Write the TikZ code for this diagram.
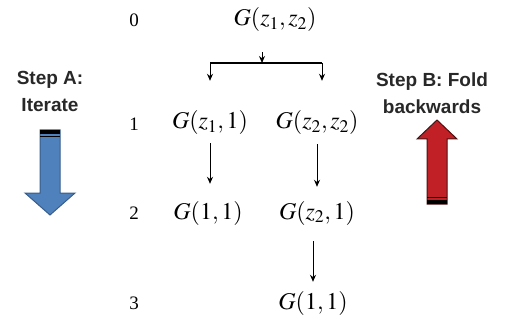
\documentclass[tikz,border=0pt]{standalone}
\usepackage{mathptmx}
\usepackage[no-math]{fontspec}
\setmainfont{Liberation Serif}
\newfontfamily\stepfont{Liberation Sans}
\usetikzlibrary{arrows.meta,positioning}
\definecolor{stepblue}{RGB}{79,129,189}
\definecolor{stepblueline}{RGB}{56,93,138}
\definecolor{stepred}{RGB}{192,32,38}
\definecolor{stepredline}{RGB}{70,20,20}
\definecolor{steptextgray}{RGB}{40,40,40}

\begin{document}
\begin{tikzpicture}[
  x=1pt, y=-1pt,
  term/.style={inner sep=0pt,font=\fontsize{24}{28}\selectfont},
  level/.style={inner sep=0pt,font=\fontsize{19}{23}\selectfont},
  steptext/.style={align=center,inner sep=0pt,text=steptextgray,
                   font=\stepfont\bfseries\fontsize{19}{27}\selectfont},
  arr/.style={-{Stealth[length=7pt,width=6pt]},line width=1pt},
  bigarrow/.style={line width=1pt,line join=miter}
]
\useasboundingbox (0,0) rectangle (505,323);
\node[level] (l0) at (134,20) {0};
\node[level] (l1) at (134,124) {1};
\node[level] (l2) at (134,213) {2};
\node[level] (l3) at (134,303) {3};
\node[term] (g0) at (275,20) {$G(z_1,z_2)$};
\node[term] (g1a) at (210,123) {$G(z_1,1)$};
\node[term] (g1b) at (317,123) {$G(z_2,z_2)$};
\node[term] (g2a) at (208,213) {$G(1,1)$};
\node[term] (g2b) at (317,213) {$G(z_2,1)$};
\node[term] (g3) at (313,303) {$G(1,1)$};
\coordinate (split) at (262,63);
\coordinate (bl) at (210,63);
\coordinate (br) at (322,63);
\draw[line width=1.3pt] (bl) -- (br);
\draw[arr,shorten <=20pt] (g0.south -| split) -- (split);
\draw[arr,shorten >=30pt] (bl) -- (bl |- g1a.north);
\draw[arr,shorten >=30pt] (br) -- (br |- g1b.north);
\draw[arr,shorten <=8pt,shorten >=17pt] (g1a.south -| bl) -- (g2a.north -| bl);
\draw[arr,shorten <=9pt,shorten >=14pt] (g1b.south) -- (g2b.north);
\draw[arr,shorten <=16pt,shorten >=9pt] (g2b.south -| g3) -- (g3);
\node[steptext] (stepa) at (50,91) {Step A:\\Iterate};
\node[steptext] (stepb) at (432,93) {Step B: Fold\\backwards};
\draw[bigarrow,draw=stepblueline,fill=stepblue] (40,130) -- (60,130) -- (60,193)
  -- (75,193) -- (50,215) -- (25,193) -- (40,193) -- cycle;
\fill[black] (40,130) rectangle (60,134);
\draw[line width=0.8pt] (40,136.5) -- (60,136.5);
\draw[bigarrow,draw=stepredline,fill=stepred] (427,204) -- (427,139) -- (417,139)
  -- (437,120) -- (457,139) -- (447,139) -- (447,204) -- cycle;
\fill[black] (427,200) rectangle (447,204);
\draw[line width=0.8pt] (427,197) -- (447,197);
\end{tikzpicture}
\end{document}
